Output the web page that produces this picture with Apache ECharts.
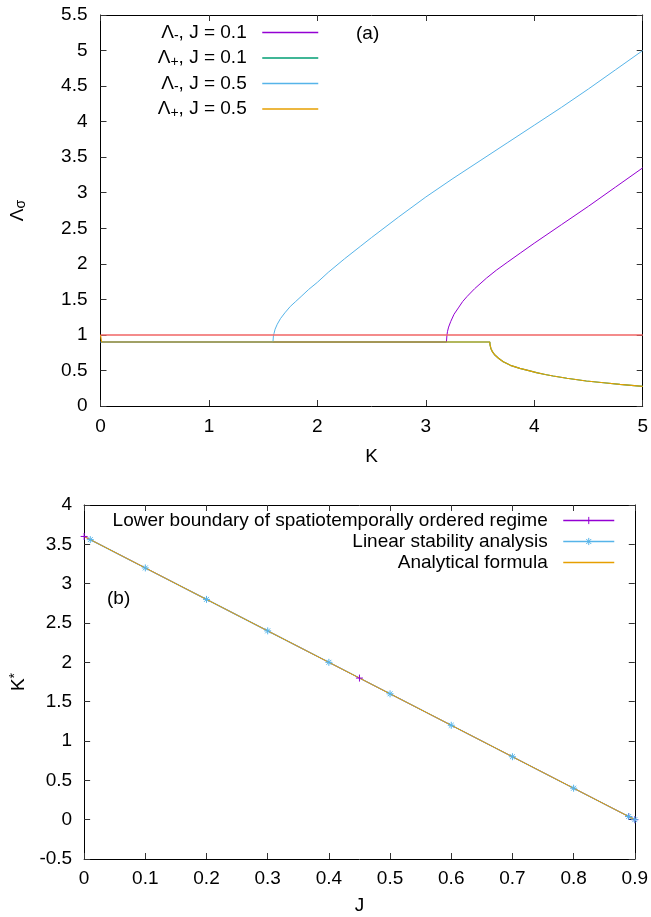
<!DOCTYPE html>
<html><head><meta charset="utf-8">
<script src="https://cdn.jsdelivr.net/npm/echarts@6/dist/echarts.min.js"></script>
<style>html,body{margin:0;padding:0;background:#fff}#c{width:651px;height:917px}</style>
</head><body><div id="c"></div>
<script>
// ---------- Panel (a): Lambda_sigma vs K ----------
const kLamMinusJ01 = [0, 3.19, 3.195, 3.2, 3.21, 3.23, 3.26, 3.3, 3.34, 3.38, 3.45, 3.56, 3.65, 3.75, 3.87, 4.0, 4.25, 4.5, 4.75, 5.0];
const lamMinusJ01  = [0.9, 0.9, 1.0, 1.05, 1.11, 1.19, 1.29, 1.38, 1.47, 1.54, 1.65, 1.80, 1.91, 2.02, 2.15, 2.29, 2.55, 2.81, 3.08, 3.35];
const kLamPlusJ01  = [0, 3.59, 3.592, 3.6, 3.615, 3.637, 3.67, 3.714, 3.78, 3.867, 3.95, 4.02, 4.1, 4.174, 4.3, 4.48, 4.64, 4.79, 5.0];
const lamPlusJ01   = [0.9, 0.9, 0.86, 0.81, 0.76, 0.717, 0.672, 0.623, 0.572, 0.53, 0.497, 0.469, 0.443, 0.422, 0.39, 0.352, 0.327, 0.305, 0.277];
const kLamMinusJ05 = [0, 1.59, 1.595, 1.6, 1.61, 1.63, 1.66, 1.7, 1.75, 1.8, 1.85, 1.92, 2.0, 2.1, 2.25, 2.4, 2.5, 2.75, 3.0, 3.25, 3.5, 3.75, 4.0, 4.25, 4.5, 4.75, 5.0];
const lamMinusJ05  = [0.9, 0.9, 0.99, 1.02, 1.08, 1.15, 1.23, 1.31, 1.40, 1.47, 1.54, 1.64, 1.74, 1.88, 2.07, 2.25, 2.37, 2.66, 2.94, 3.2, 3.45, 3.7, 3.95, 4.2, 4.46, 4.73, 5.0];
const kLamPlusJ05  = [0, 0.01, 3.59, 3.592, 3.6, 3.615, 3.637, 3.67, 3.714, 3.78, 3.867, 3.95, 4.02, 4.1, 4.174, 4.3, 4.48, 4.64, 4.79, 5.0];
const lamPlusJ05   = [1.0, 0.9, 0.9, 0.86, 0.81, 0.76, 0.717, 0.672, 0.623, 0.572, 0.53, 0.497, 0.469, 0.443, 0.422, 0.39, 0.352, 0.327, 0.305, 0.277];
const kUnity = [0, 5];
const unity  = [1, 1];
const legendNamesA = ['Λ-, J = 0.1', 'Λ+, J = 0.1', 'Λ-, J = 0.5', 'Λ+, J = 0.5'];

// ---------- Panel (b): K* vs J ----------
const jLower   = [0, 0.45, 0.89, 0.9];
const kLower   = [3.6, 1.8, 0.04, 0];
const jLinear  = [0.01, 0.1, 0.2, 0.3, 0.4, 0.5, 0.6, 0.7, 0.8, 0.89, 0.9];
const kLinear  = [3.56, 3.2, 2.8, 2.4, 2.0, 1.6, 1.2, 0.8, 0.4, 0.04, 0];
const jAnalytic = [0, 0.9];
const kAnalytic = [3.6, 0];
const legendNamesB = ['Lower boundary of spatiotemporally ordered regime', 'Linear stability analysis', 'Analytical formula'];

const pairs = (xs, ys) => xs.map((x, i) => [x, ys[i]]);
const FF = '"Liberation Sans", Arial, Helvetica, sans-serif';
const FS = 19;
const SFS = 14;

function axis(gridIndex, position, min, max, interval, show, extra) {
  return Object.assign({
    type: 'value', gridIndex, position, min, max, interval,
    axisLine: { show: true, onZero: false, lineStyle: { color: '#000', width: 1 } },
    axisTick: { show: true, inside: true, length: 6, lineStyle: { color: '#333', width: 1 } },
    splitLine: { show: false },
    axisLabel: { show: show, color: '#000', fontSize: FS, fontFamily: FF, margin: 12,
      formatter: v => String(+v.toFixed(2)) }
  }, extra || {});
}

const PLUS = 'path://M0,5L10,5M5,0L5,10';
const STAR = 'path://M0,5L10,5M5,0L5,10M1.5,1.5L8.5,8.5M8.5,1.5L1.5,8.5';

const legendRich = {
  n: { fontSize: FS, fontFamily: FF, color: '#000', lineHeight: 22 },
  sub: { fontSize: SFS, fontFamily: FF, color: '#000', lineHeight: 14, verticalAlign: 'bottom' }
};
function legendFmt(name) {
  const m = name.match(/^Λ([+-])(.*)$/);
  if (m) return '{n|Λ}{sub|' + m[1] + '}{n|' + m[2] + '  }';
  return '{n|' + name + '  }';
}

const option = {
  animation: false,
  backgroundColor: '#fff',
  grid: [
    { left: 100, top: 15, width: 543, height: 391 },
    { left: 84, top: 505, width: 554, height: 354 }
  ],
  xAxis: [
    axis(0, 'bottom', 0, 5, 1, true, {
      name: 'K', nameLocation: 'middle', nameGap: 41,
      axisLabel: { show: true, color: '#000', fontSize: FS, fontFamily: FF, margin: 11 },
      nameTextStyle: { fontSize: FS, fontFamily: FF, color: '#000' }
    }),
    axis(0, 'top', 0, 5, 1, false),
    axis(1, 'bottom', 0, 0.9, 0.1, true, {
      name: 'J', nameLocation: 'middle', nameGap: 37,
      axisLabel: { show: true, color: '#000', fontSize: FS, fontFamily: FF, margin: 10,
        formatter: v => String(+v.toFixed(2)) },
      nameTextStyle: { fontSize: FS, fontFamily: FF, color: '#000' }
    }),
    axis(1, 'top', 0, 0.9, 0.1, false)
  ],
  yAxis: [
    axis(0, 'left', 0, 5.5, 0.5, true, {
      name: '{n|Λ}{s|σ}', nameLocation: 'middle', nameGap: 72, nameRotate: 90,
      axisLabel: { show: true, color: '#000', fontSize: FS, fontFamily: FF, margin: 13,
        formatter: v => String(+v.toFixed(2)) },
      nameTextStyle: { fontSize: FS, fontFamily: FF, color: '#000',
        rich: { n: { fontSize: FS, fontFamily: FF, lineHeight: 22 },
                s: { fontSize: SFS, fontFamily: FF, lineHeight: 14, verticalAlign: 'bottom' } } }
    }),
    axis(0, 'right', 0, 5.5, 0.5, false),
    axis(1, 'left', -0.5, 4, 0.5, true, {
      name: '{n|K}{s|*}', nameLocation: 'middle', nameGap: 46, nameRotate: 90,
      axisLabel: { show: true, color: '#000', fontSize: FS, fontFamily: FF, margin: 12,
        formatter: v => String(+v.toFixed(2)) },
      nameTextStyle: { fontSize: FS, fontFamily: FF, color: '#000',
        rich: { n: { fontSize: FS, fontFamily: FF, lineHeight: 22 },
                s: { fontSize: SFS, fontFamily: FF, lineHeight: 14, verticalAlign: 'top' } } }
    }),
    axis(1, 'right', -0.5, 4, 0.5, false)
  ],
  legend: [
    {
      data: legendNamesA, orient: 'vertical', align: 'right', right: 332, top: 23,
      padding: 0, itemWidth: 56, itemHeight: 10, itemGap: 5,
      itemStyle: { opacity: 0 }, lineStyle: { width: 1.5 },
      formatter: legendFmt, selectedMode: false,
      textStyle: { fontSize: FS, fontFamily: FF, color: '#000', rich: legendRich }
    },
    {
      data: legendNamesB.map((n, i) => i === 2 ? { name: n, itemStyle: { opacity: 0 } } : { name: n, itemStyle: { borderWidth: 1 } }),
      orient: 'vertical', align: 'right', right: 36, top: 511,
      padding: 0, itemWidth: 51, itemHeight: 9, itemGap: 2,
      lineStyle: { width: 1.5 },
      formatter: legendFmt, selectedMode: false,
      textStyle: { fontSize: FS, fontFamily: FF, color: '#000', rich: legendRich }
    }
  ],
  graphic: [
    { type: 'text', left: 356, top: 24, style: { text: '(a)', fontSize: FS, fontFamily: FF, fill: '#000' } },
    { type: 'text', left: 107, top: 589, style: { text: '(b)', fontSize: FS, fontFamily: FF, fill: '#000' } }
  ],
  series: [
    { name: legendNamesA[0], type: 'line', xAxisIndex: 0, yAxisIndex: 0, data: pairs(kLamMinusJ01, lamMinusJ01),
      symbol: 'none', color: '#9400d3', lineStyle: { width: 1, color: '#9400d3' } },
    { name: legendNamesA[1], type: 'line', xAxisIndex: 0, yAxisIndex: 0, data: pairs(kLamPlusJ01, lamPlusJ01),
      symbol: 'none', color: '#009e73', lineStyle: { width: 1.2, color: '#009e73' } },
    { name: legendNamesA[2], type: 'line', xAxisIndex: 0, yAxisIndex: 0, data: pairs(kLamMinusJ05, lamMinusJ05),
      symbol: 'none', color: '#56b4e9', lineStyle: { width: 1, color: '#56b4e9' } },
    { name: legendNamesA[3], type: 'line', xAxisIndex: 0, yAxisIndex: 0, data: pairs(kLamPlusJ05, lamPlusJ05),
      symbol: 'none', color: '#e69f00', lineStyle: { width: 1.2, color: '#e69f00' } },
    { name: 'unity', type: 'line', xAxisIndex: 0, yAxisIndex: 0, data: pairs(kUnity, unity),
      symbol: 'none', color: '#f06464', lineStyle: { width: 1.5, color: '#f06464' } },

    { name: legendNamesB[0], type: 'line', xAxisIndex: 2, yAxisIndex: 2, data: pairs(jLower, kLower),
      symbol: PLUS, symbolSize: 7, showSymbol: true, color: '#9400d3',
      itemStyle: { color: '#9400d3', borderColor: '#9400d3', borderWidth: 1 },
      lineStyle: { width: 1, color: '#9400d3' } },
    { name: legendNamesB[1], type: 'line', xAxisIndex: 2, yAxisIndex: 2, data: pairs(jLinear, kLinear),
      symbol: STAR, symbolSize: 7, showSymbol: true, color: '#56b4e9',
      itemStyle: { color: '#56b4e9', borderColor: '#56b4e9', borderWidth: 1 },
      lineStyle: { width: 1.2, color: '#56b4e9' } },
    { name: legendNamesB[2], type: 'line', xAxisIndex: 2, yAxisIndex: 2, data: pairs(jAnalytic, kAnalytic),
      symbol: 'none', color: '#e69f00', lineStyle: { width: 1, color: '#e69f00' } }
  ]
};
const chart = echarts.init(document.getElementById('c'), null, { renderer: 'canvas' });
chart.setOption(option);
</script></body></html>
